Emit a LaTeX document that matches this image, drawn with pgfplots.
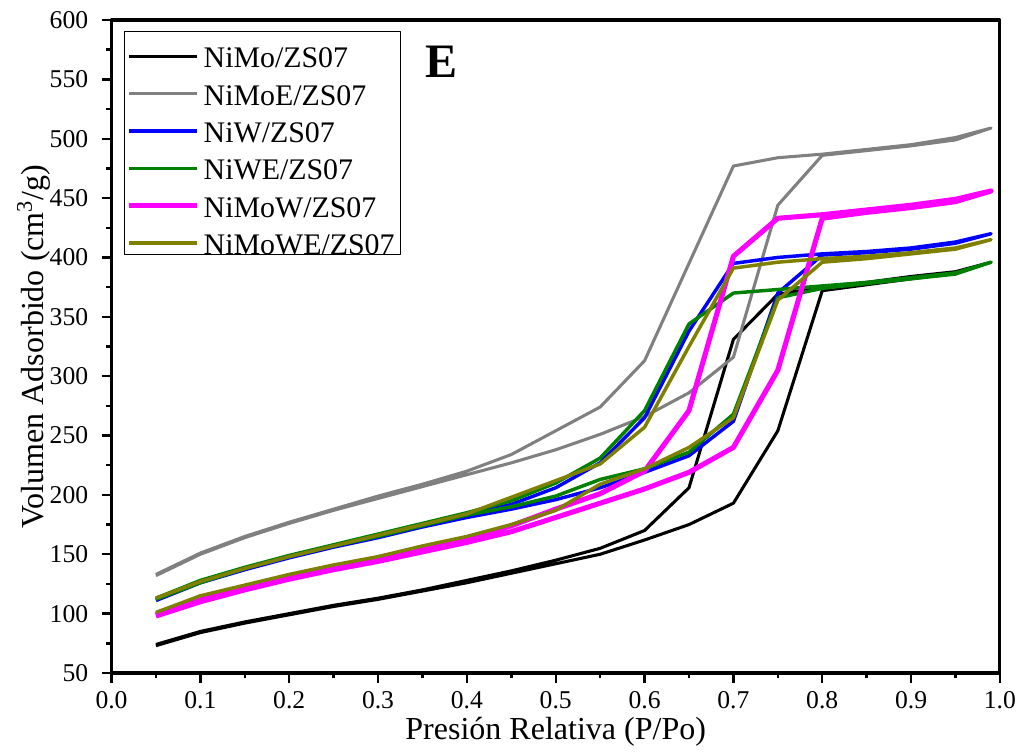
\documentclass[border=0pt]{standalone}
\usepackage{fontspec}
\setmainfont{Liberation Serif}
\usepackage{pgfplots}
\pgfplotsset{compat=1.18}
\definecolor{cgray}{RGB}{128,128,128}
\definecolor{cblue}{RGB}{0,0,255}
\definecolor{cgreen}{RGB}{0,128,0}
\definecolor{cmag}{RGB}{255,0,255}
\definecolor{colive}{RGB}{128,128,0}
\begin{document}
\begin{tikzpicture}
\begin{axis}[
  scale only axis, width=666pt, height=489.5pt,
  xmin=0, xmax=1, ymin=50, ymax=600,
  xtick={0,0.1,0.2,0.3,0.4,0.5,0.6,0.7,0.8,0.9,1},
  xticklabels={0.0,0.1,0.2,0.3,0.4,0.5,0.6,0.7,0.8,0.9,1.0},
  ytick={50,100,...,600},
  minor x tick num=1, minor y tick num=1,
  tick align=outside, tick pos=left,
  major tick length=7.5pt, minor tick length=4pt,
  every tick/.style={black, line width=1.8pt},
  axis line style={line width=2.3pt},
  tick label style={font=\fontsize{19.2}{22}\selectfont},
  xticklabel style={yshift=-2.5pt},
  yticklabel style={xshift=-6.5pt},
  /pgf/number format/assume math mode=true,
  label style={font=\fontsize{24}{28}\selectfont},
  xlabel={Presión Relativa (P/Po)},
  ylabel={Volumen Adsorbido (cm\textsuperscript{3}/g)},
  xlabel style={at={(axis description cs:0.5,-0.1026)}, anchor=base, inner ysep=0pt},
  ylabel style={at={(axis description cs:-0.076,0.5)}, anchor=base},
  legend style={at={(0.0141,0.9836)}, anchor=north west, draw=black, line width=0.8pt,
    font=\fontsize{22.4}{26}\selectfont, inner xsep=1.5pt, inner ysep=0pt, row sep=0.5pt,
    nodes={text height=27.5pt, text depth=0pt, inner ysep=0pt, inner xsep=3pt}},
  legend cell align=left,
  legend image code/.code={\draw[#1,line cap=butt] (0pt,-5pt) -- (51pt,-5pt);},
  line join=round,
]
\addplot[black, line width=2.3pt] coordinates {
(0.05,73)(0.1,84)(0.15,92)(0.2,99)(0.25,106)(0.3,112)(0.35,119)(0.4,126)(0.45,134)(0.5,142)(0.55,150)(0.6,162)(0.65,175)(0.7,193)(0.75,254)(0.8,372)(0.85,377)(0.9,382)(0.95,387)(0.99,396)
(0.95,388)(0.9,384)(0.85,379)(0.8,375)(0.75,369)(0.7,331)(0.65,206)(0.6,170)(0.55,155)(0.5,145)(0.45,136)(0.4,128)(0.35,120)(0.3,113)(0.25,107)(0.2,100)(0.15,93)(0.1,85)(0.05,74)};
\addlegendentry{NiMo/ZS07}
\addplot[cgray, line width=2.3pt] coordinates {
(0.05,132)(0.1,150)(0.15,164)(0.2,176)(0.25,187)(0.3,197)(0.35,207)(0.4,217)(0.45,227)(0.5,238)(0.55,251)(0.6,266)(0.65,286)(0.7,316)(0.75,444)(0.8,486)(0.85,490)(0.9,494)(0.95,499)(0.99,509)
(0.95,501)(0.9,495)(0.85,491)(0.8,487)(0.75,484)(0.7,477)(0.65,395)(0.6,313)(0.55,274)(0.5,254)(0.45,234)(0.4,220)(0.35,209)(0.3,199)(0.25,188)(0.2,177)(0.15,165)(0.1,151)(0.05,133)};
\addlegendentry{NiMoE/ZS07}
\addplot[cblue, line width=2.6pt] coordinates {
(0.05,111)(0.1,126)(0.15,137)(0.2,147)(0.25,156)(0.3,164)(0.35,173)(0.4,181)(0.45,188)(0.5,196)(0.55,206)(0.6,219)(0.65,233)(0.7,262)(0.75,370)(0.8,402)(0.85,404)(0.9,407)(0.95,412)(0.99,420)
(0.95,413)(0.9,408)(0.85,405)(0.8,403)(0.75,400)(0.7,395)(0.65,338)(0.6,265)(0.55,227)(0.5,206)(0.45,192)(0.4,183)(0.35,174)(0.3,165)(0.25,157)(0.2,148)(0.15,138)(0.1,127)(0.05,112)};
\addlegendentry{NiW/ZS07}
\addplot[cgreen, line width=2.6pt] coordinates {
(0.05,112)(0.1,126)(0.15,138)(0.2,148)(0.25,157)(0.3,165)(0.35,174)(0.4,183)(0.45,190)(0.5,199)(0.55,213)(0.6,222)(0.65,236)(0.7,268)(0.75,366)(0.8,374)(0.85,378)(0.9,382)(0.95,386)(0.99,396)
(0.95,387)(0.9,383)(0.85,379)(0.8,376)(0.75,373)(0.7,370)(0.65,344)(0.6,271)(0.55,231)(0.5,210)(0.45,195)(0.4,185)(0.35,176)(0.3,167)(0.25,158)(0.2,149)(0.15,139)(0.1,128)(0.05,113)};
\addlegendentry{NiWE/ZS07}
\addplot[cmag, line width=3.8pt] coordinates {
(0.05,98)(0.1,110)(0.15,120)(0.2,129)(0.25,137)(0.3,144)(0.35,152)(0.4,160)(0.45,169)(0.5,181)(0.55,193)(0.6,205)(0.65,219)(0.7,240)(0.75,305)(0.8,433)(0.85,438)(0.9,442)(0.95,447)(0.99,456)
(0.95,449)(0.9,444)(0.85,440)(0.8,436)(0.75,433)(0.7,401)(0.65,271)(0.6,220)(0.55,201)(0.5,188)(0.45,174)(0.4,163)(0.35,155)(0.3,147)(0.25,139)(0.2,131)(0.15,122)(0.1,112)(0.05,99)};
\addlegendentry{NiMoW/ZS07}
\addplot[colive, line width=2.6pt] coordinates {
(0.05,101)(0.1,115)(0.15,124)(0.2,133)(0.25,141)(0.3,148)(0.35,157)(0.4,165)(0.45,175)(0.5,187)(0.55,209)(0.6,222)(0.65,240)(0.7,265)(0.75,364)(0.8,396)(0.85,399)(0.9,403)(0.95,407)(0.99,415)
(0.95,408)(0.9,404)(0.85,401)(0.8,399)(0.75,396)(0.7,391)(0.65,325)(0.6,257)(0.55,226)(0.5,212)(0.45,198)(0.4,184)(0.35,175)(0.3,166)(0.25,157)(0.2,148)(0.15,138)(0.1,127)(0.05,113)};
\addlegendentry{NiMoWE/ZS07}
\node[font=\fontsize{36}{40}\selectfont\bfseries] at (axis cs:0.371,565) {E};
\coordinate (bl) at (rel axis cs:0,0);
\coordinate (tr) at (rel axis cs:1,1);
\end{axis}
\pgfresetboundingbox
\path[use as bounding box] ([shift={(-83.6pt,-60.2pt)}]bl) rectangle ([shift={(14.3pt,15pt)}]tr);
\end{tikzpicture}
\end{document}
